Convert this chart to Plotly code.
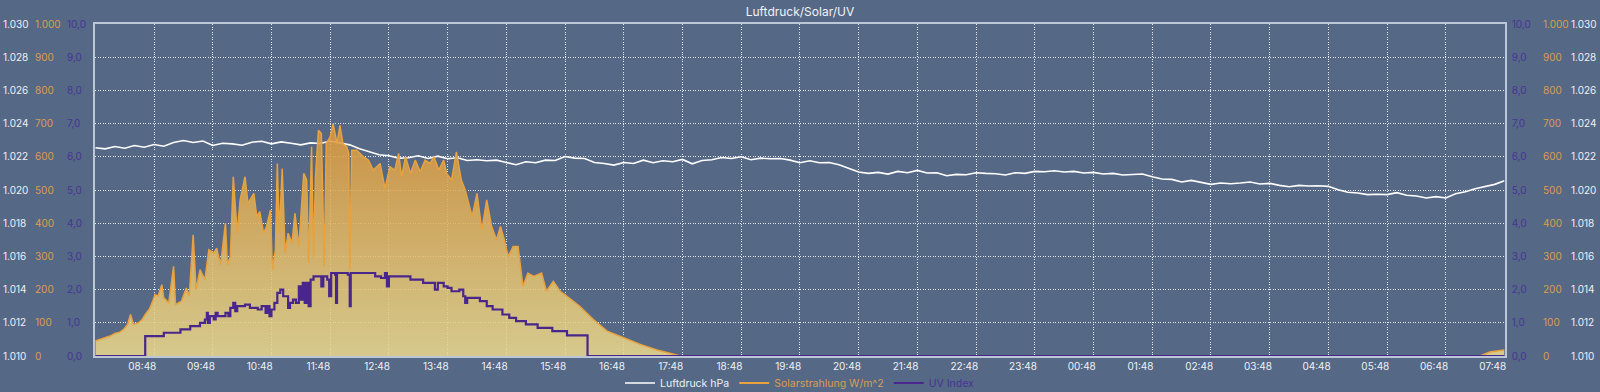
import pandas as pd
import plotly.graph_objects as go

# ---------------- data ----------------
START = pd.Timestamp("2024-06-10 08:00")
END = pd.Timestamp("2024-06-11 08:00")

# Luftdruck (hPa), every 10 minutes from 08:00
pressure_minutes = list(range(0, 1441, 10))
pressure_hpa = [
    1022.55, 1022.48, 1022.62, 1022.52, 1022.68, 1022.58, 1022.74, 1022.64, 1022.86, 1022.98,
    1022.86, 1022.95, 1022.68, 1022.82, 1022.78, 1022.70, 1022.88, 1022.94, 1022.78, 1022.90,
    1022.82, 1022.72, 1022.84, 1022.80, 1022.95, 1022.84, 1022.72, 1022.48, 1022.32, 1022.12,
    1022.06, 1021.92, 1021.94, 1022.06, 1021.90, 1022.04, 1021.88, 1021.94, 1021.78, 1021.82,
    1021.76, 1021.80, 1021.66, 1021.52, 1021.70, 1021.64, 1021.80, 1021.78, 1022.02, 1021.92,
    1021.90, 1021.66, 1021.60, 1021.50, 1021.66, 1021.60, 1021.80, 1021.64, 1021.76, 1021.70,
    1021.84, 1021.58, 1021.78, 1021.82, 1021.96, 1021.90, 1022.00, 1021.82, 1021.92, 1021.88,
    1021.90, 1021.80, 1021.64, 1021.76, 1021.64, 1021.66, 1021.52, 1021.30, 1021.08, 1021.00,
    1021.06, 1020.96, 1021.12, 1021.04, 1021.18, 1021.02, 1021.04, 1020.86, 1020.94, 1020.92,
    1021.04, 1021.00, 1020.98, 1020.90, 1021.04, 1021.00, 1021.12, 1021.10, 1021.16, 1021.08,
    1021.12, 1021.02, 1021.06, 1020.96, 1021.00, 1020.90, 1020.94, 1020.96, 1020.80, 1020.66,
    1020.64, 1020.48, 1020.58, 1020.48, 1020.34, 1020.42, 1020.38, 1020.42, 1020.48, 1020.36,
    1020.40, 1020.28, 1020.20, 1020.28, 1020.24, 1020.26, 1020.22, 1020.02, 1019.86, 1019.82,
    1019.72, 1019.74, 1019.72, 1019.84, 1019.68, 1019.64, 1019.52, 1019.60, 1019.52, 1019.78,
    1019.90, 1020.08, 1020.20, 1020.34, 1020.55,
]

# Solarstrahlung (W/m^2)
solar_minutes = [
    0, 5, 10, 15, 20, 25, 29, 33, 36, 39, 44, 48, 51, 55, 58, 61, 64, 68, 70, 75,
    80, 82, 88, 93, 96, 100, 103, 107, 112, 116, 121, 124, 128, 133, 135, 138, 141, 145, 148, 153,
    156, 162, 165, 168, 172, 175, 179, 181, 184, 186, 188, 191, 194, 197, 201, 204, 208, 213, 216, 218,
    221, 223, 225, 228, 231, 234, 236, 240, 243, 247, 250, 253, 257, 259, 260, 262, 267, 274, 279, 284,
    291, 296, 301, 306, 310, 313, 317, 322, 327, 332, 337, 342, 346, 351, 356, 359, 364, 369, 374, 378,
    385, 390, 395, 400, 405, 410, 414, 417, 422, 427, 432, 437, 442, 448, 456, 461, 468, 475, 482, 495,
    509, 523, 540, 557, 574, 592, 598, 1415, 1420, 1425, 1432, 1440,
]
solar_wm2 = [
    45, 50, 55, 60, 68, 72, 80, 95, 125, 95, 100, 110, 125, 140, 160, 185, 180, 215, 175, 160,
    270, 155, 165, 205, 180, 365, 200, 260, 230, 320, 310, 325, 275, 400, 275, 300, 540, 370, 470, 540,
    460, 490, 420, 435, 370, 390, 440, 260, 320, 580, 370, 565, 310, 370, 340, 430, 330, 550, 530, 280,
    630, 300, 540, 680, 670, 270, 640, 660, 700, 640, 695, 640, 630, 610, 260, 620, 620, 600, 590, 560,
    580, 505, 570, 560, 610, 540, 600, 550, 590, 555, 590, 580, 600, 560, 590, 550, 530, 615, 530, 500,
    420, 490, 380, 470, 390, 350, 390, 360, 300, 330, 330, 210, 250, 240, 250, 195, 225, 195, 180, 150,
    110, 75, 55, 35, 18, 5, 0, 0, 5, 12, 15, 18,
]

# UV Index (stepped)
uv_minutes = [
    0, 51, 70, 87, 97, 107, 112, 114, 115, 117, 121, 123, 125, 133, 136, 138, 141, 143, 145, 153,
    158, 166, 170, 174, 176, 178, 180, 183, 186, 189, 192, 197, 199, 202, 205, 208, 210, 212, 214, 216,
    218, 220, 223, 229, 231, 233, 237, 239, 241, 245, 246, 247, 258, 260, 261, 284, 286, 292, 296, 298,
    300, 318, 322, 335, 345, 347, 350, 356, 360, 364, 372, 376, 378, 380, 393, 400, 406, 416, 423, 430,
    440, 452, 467, 482, 503, 1440,
]
uv_index = [
    0.0, 0.6, 0.7, 0.8, 0.9, 1.0, 1.1, 1.3, 1.0, 1.2, 1.1, 1.3, 1.2, 1.3, 1.2, 1.45, 1.6, 1.35, 1.5, 1.55,
    1.45, 1.4, 1.5, 1.3, 1.5, 1.2, 1.4, 1.6, 1.9, 2.0, 1.8, 1.45, 1.6, 1.7, 1.6, 2.1, 1.7, 2.2, 1.6, 2.2,
    1.5, 2.3, 2.4, 2.4, 2.1, 2.4, 2.3, 1.8, 2.5, 2.45, 1.6, 2.5, 2.45, 1.5, 2.5, 2.5, 2.4, 2.35, 2.5, 2.1,
    2.4, 2.4, 2.3, 2.2, 2.2, 2.0, 2.2, 2.1, 2.05, 1.95, 2.0, 1.8, 1.6, 1.75, 1.65, 1.5, 1.4, 1.25, 1.15, 1.05,
    0.95, 0.85, 0.75, 0.62, 0.0, 0.0,
]

x_tick_labels = [
    "08:48", "09:48", "10:48", "11:48", "12:48", "13:48", "14:48", "15:48", "16:48", "17:48",
    "18:48", "19:48", "20:48", "21:48", "22:48", "23:48", "00:48", "01:48", "02:48", "03:48",
    "04:48", "05:48", "06:48", "07:48",
]

TITLE = "Luftdruck/Solar/UV"
NAME_P = "Luftdruck hPa"
NAME_S = "Solarstrahlung W/m^2"
NAME_UV = "UV Index"

# ---------------- styles ----------------
BG = "rgb(85,104,133)"
FRAME = "rgb(188,198,215)"
GRID = "rgba(255,255,255,0.85)"
GRID_DASH = "1px,1.5px"
C_P = "#ffffff"
C_P_TXT = "rgb(238,241,245)"
C_S = "rgb(232,162,62)"
C_S_TXT = "rgb(218,158,80)"
C_UV = "rgb(72,38,140)"
C_UV_TXT = "rgb(72,52,150)"
FONT = "Inter, Roboto, 'Noto Sans', sans-serif"

W, H = 1600, 392
PX_L, PX_R = 95.3, 1504.5
PY_T, PY_B = 24, 356


def tx(minutes):
    return [START + pd.Timedelta(minutes=m) for m in minutes]


def tick_time(label):
    t = pd.Timestamp(START.strftime("%Y-%m-%d") + " " + label)
    if t < START:
        t += pd.Timedelta(days=1)
    return t


fig = go.Figure()

fig.add_trace(go.Scatter(
    x=tx(pressure_minutes), y=pressure_hpa, mode="lines", yaxis="y",
    line=dict(color=C_P, width=1.6), name=f"<span style='color:{C_P_TXT}'>{NAME_P}</span>",
    hoverinfo="skip",
))
fig.add_trace(go.Scatter(
    x=tx(solar_minutes), y=solar_wm2, mode="lines", yaxis="y2",
    line=dict(color=C_S, width=1.5), fill="tozeroy",
    fillgradient=dict(type="vertical",
                      colorscale=[[0, "rgba(234,217,141,0.86)"], [1, "rgba(214,124,22,0.86)"]],
                      start=0, stop=1000),
    showlegend=False, hoverinfo="skip",
))
fig.add_trace(go.Scatter(
    x=[None], y=[None], mode="lines", yaxis="y2",
    line=dict(color=C_S, width=2), name=f"<span style='color:{C_S_TXT}'>{NAME_S}</span>",
))
fig.add_trace(go.Scatter(
    x=tx(uv_minutes), y=uv_index, mode="lines", yaxis="y3", line_shape="hv",
    line=dict(color=C_UV, width=2.2), name=f"<span style='color:{C_UV_TXT}'>{NAME_UV}</span>",
    hoverinfo="skip",
))
for ax in ["y4", "y5", "y6", "y7"]:
    fig.add_trace(go.Scatter(x=[None], y=[None], yaxis=ax, showlegend=False, hoverinfo="skip"))

dom_y = [1 - PY_B / H, 1 - PY_T / H]
PAD = 2


def label_axis(pos_px, rng, dtick, fmt, color, **kw):
    d = dict(domain=dom_y, range=rng, dtick=dtick, tick0=rng[0], tickformat=fmt,
             anchor="free", position=(pos_px - PAD) / W, side="right",
             showgrid=False, zeroline=False, showline=False, ticks="", automargin=False,
             tickfont=dict(color=color, size=10, family=FONT), fixedrange=True)
    d.update(kw)
    return d


fig.update_layout(
    width=W, height=H, margin=dict(l=0, r=0, t=0, b=0, autoexpand=False),
    paper_bgcolor=BG, plot_bgcolor=BG, separators=",.",
    font=dict(family=FONT, size=10, color=C_P_TXT),
    title=dict(text=TITLE, x=0.5, xanchor="center", xref="container",
               y=1 - 12 / H, yanchor="middle", yref="container",
               font=dict(size=12, color="rgb(240,243,247)", family=FONT)),
    showlegend=True,
    legend=dict(orientation="h", x=0.5, xanchor="center", xref="container",
                y=1 - 383 / H, yanchor="middle", yref="container",
                font=dict(size=10.5, family=FONT), bgcolor="rgba(0,0,0,0)", traceorder="normal"),
    hovermode=False,
    xaxis=dict(
        domain=[PX_L / W, PX_R / W], type="date", range=[START, END],
        tickmode="array", tickvals=[tick_time(l) for l in x_tick_labels], ticktext=x_tick_labels,
        showgrid=False, zeroline=False, ticks="", automargin=False,
        showline=True, mirror=True, linecolor=FRAME, linewidth=2,
        tickfont=dict(color=C_P_TXT, size=10, family=FONT),
        minor=dict(tick0=START + pd.Timedelta(hours=1), dtick=3600000, showgrid=True,
                   gridcolor=GRID, griddash=GRID_DASH, gridwidth=1),
        fixedrange=True,
    ),
    yaxis=label_axis(4, [1010, 1030], 2, ",d", C_P_TXT, showgrid=True, gridcolor=GRID,
                     griddash=GRID_DASH, gridwidth=1),
    yaxis2=label_axis(36, [0, 1000], 100, ",d", C_S_TXT, overlaying="y"),
    yaxis3=label_axis(68, [0, 10], 1, ".1f", C_UV_TXT, overlaying="y"),
    yaxis4=label_axis(1512.7, [0, 10], 1, ".1f", C_UV_TXT, overlaying="y"),
    yaxis5=label_axis(1544, [0, 1000], 100, ",d", C_S_TXT, overlaying="y"),
    yaxis6=label_axis(1572, [1010, 1030], 2, ",d", C_P_TXT, overlaying="y"),
    yaxis7=dict(domain=dom_y, range=[1010, 1030], overlaying="y", anchor="x", side="left",
                showline=True, mirror=True, linecolor=FRAME, linewidth=2, automargin=False,
                showticklabels=False, showgrid=False, zeroline=False, ticks="", fixedrange=True),
)

fig.write_html(
    "out.html",
    config={"displayModeBar": False},
    post_script="document.body.style.margin='0px';document.body.style.padding='0px';"
                "document.body.style.overflow='hidden';",
)
